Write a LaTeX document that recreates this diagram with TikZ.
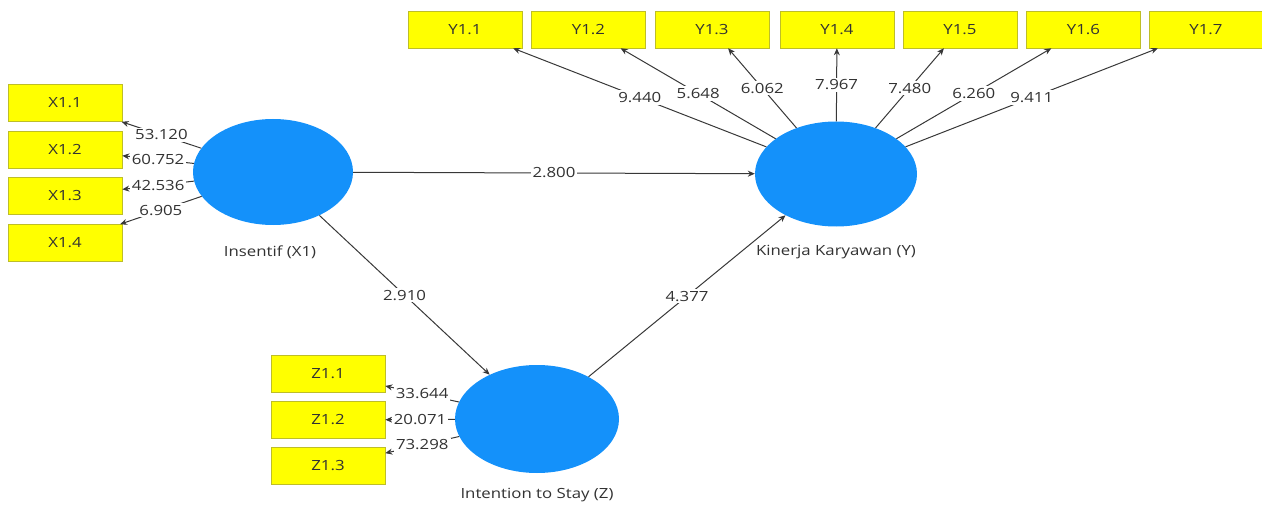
\documentclass[tikz,border=0pt]{standalone}
\usepackage{fontspec}
\setmainfont{Open Sans}[FakeStretch=1.2]
\usetikzlibrary{shapes.geometric,arrows.meta}
\definecolor{latblue}{RGB}{20,145,250}
\definecolor{indyel}{RGB}{255,255,0}
\definecolor{indborder}{RGB}{190,190,40}
\definecolor{txt}{RGB}{50,50,50}
\begin{document}
\begin{tikzpicture}[x=1pt,y=-1pt,
  ind/.style={draw=indborder, fill=indyel, line width=0.6pt, minimum width=114pt, minimum height=37pt, inner sep=0pt, font=\fontsize{14}{16}\selectfont, text=txt},
  lat/.style={ellipse, fill=latblue, draw=none, inner sep=0pt},
  arr/.style={draw=black!78, line width=1pt, -{Stealth[length=7pt,width=6pt]}},
  val/.style={fill=white, inner sep=2pt, font=\fontsize{14}{16}\selectfont, text=txt},
  lbl/.style={font=\fontsize{14}{16}\selectfont, text=txt}]
\useasboundingbox (0,0) rectangle (1262,508);
% latent variables
\node[lat, minimum width=160pt, minimum height=106pt] (ins) at (273,172) {};
\node[lat, minimum width=162pt, minimum height=105pt] (kin) at (836,174) {};
\node[lat, minimum width=164pt, minimum height=108pt] (int) at (537,419) {};
\node[lbl] (insl) at (270,252) {Insentif (X1)};
\node[lbl] (kinl) at (836,252) {Kinerja Karyawan (Y)};
\node[lbl] (intl) at (537,495) {Intention to Stay (Z)};
% X indicators
\node[ind] (x11) at (65,103) {X1.1};
\node[ind] (x12) at (65,149.5) {X1.2};
\node[ind] (x13) at (65,196) {X1.3};
\node[ind] (x14) at (65,243) {X1.4};
% Y indicators
\node[ind] (y11) at (465,29.5) {Y1.1};
\node[ind] (y12) at (588.5,29.5) {Y1.2};
\node[ind] (y13) at (712,29.5) {Y1.3};
\node[ind] (y14) at (837,29.5) {Y1.4};
\node[ind] (y15) at (960,29.5) {Y1.5};
\node[ind] (y16) at (1083.5,29.5) {Y1.6};
\node[ind] (y17) at (1206,29.5) {Y1.7};
% Z indicators
\node[ind] (z11) at (328,373.5) {Z1.1};
\node[ind] (z12) at (328,420) {Z1.2};
\node[ind] (z13) at (328,466) {Z1.3};
% outer loadings
\draw[arr] (ins) -- node[val] {53.120} (x11);
\draw[arr] (ins) -- node[val] {60.752} (x12);
\draw[arr] (ins) -- node[val] {42.536} (x13);
\draw[arr] (ins) -- node[val] {6.905} (x14);
\draw[arr] (kin) -- node[val] {9.440} (y11);
\draw[arr] (kin) -- node[val] {5.648} (y12);
\draw[arr] (kin) -- node[val] {6.062} (y13);
\draw[arr] (kin) -- node[val] {7.967} (y14);
\draw[arr] (kin) -- node[val] {7.480} (y15);
\draw[arr] (kin) -- node[val] {6.260} (y16);
\draw[arr] (kin) -- node[val] {9.411} (y17);
\draw[arr] (int) -- node[val] {33.644} (z11);
\draw[arr] (int) -- node[val] {20.071} (z12);
\draw[arr] (int) -- node[val] {73.298} (z13);
% structural paths
\draw[arr] (ins) -- node[val] {2.800} (kin);
\draw[arr] (ins) -- node[val] {2.910} (int);
\draw[arr] (int) -- node[val] {4.377} (kin);
\end{tikzpicture}
\end{document}
